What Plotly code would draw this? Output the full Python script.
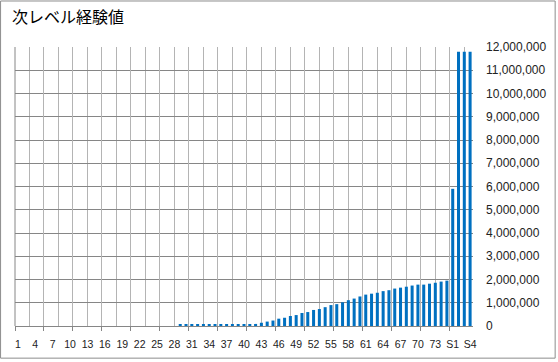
import plotly.graph_objects as go

title_text = "次レベル経験値"

levels = [str(i) for i in range(1, 76)] + ["S1", "S2", "S3", "S4"]

exp_values = (
    [0] * 28
    + [50000] * 13
    + [90000, 140000, 190000, 235000, 315000, 355000, 430000, 470000, 560000, 600000,
       690000, 730000, 810000, 900000, 940000, 1020000, 1110000, 1180000, 1270000, 1350000,
       1390000, 1430000, 1500000, 1540000, 1610000, 1650000, 1690000, 1740000, 1780000, 1780000,
       1820000, 1860000, 1910000, 1950000]
    + [5900000, 11800000, 11800000, 11800000]
)

label_ticks = levels[0:75:3] + ["S1", "S4"]

y_max = 12000000
y_step = 1000000

n = len(levels)
major_bounds = [i - 0.5 for i in range(0, n + 1, 5)]

fig = go.Figure()
fig.add_trace(go.Bar(x=levels, y=exp_values, marker=dict(color="#0070C0", line=dict(width=0)),
                     xaxis="x", yaxis="y", hoverinfo="x+y"))
# helper (draws nothing) so that the overlay axis carrying the grid and tick marks is rendered
fig.add_trace(go.Scatter(x=[-0.5, n - 0.5], y=[0, 0], mode="none", xaxis="x2", yaxis="y",
                         hoverinfo="skip", showlegend=False))

fig.update_layout(
    width=558, height=362,
    margin=dict(l=15, r=83, t=47, b=33),
    paper_bgcolor="white", plot_bgcolor="white",
    showlegend=False,
    bargap=0.48,
    title=dict(text=title_text, x=0, xref="paper", xanchor="left", y=1, yref="container",
               yanchor="top", pad=dict(t=12, l=-3),
               font=dict(family="Noto Sans CJK JP", size=16, color="#000000")),
    xaxis=dict(type="category", tickmode="array", tickvals=label_ticks, ticktext=label_ticks,
               showgrid=False, ticks="", showline=True, linecolor="#868686", linewidth=1,
               tickfont=dict(family="Liberation Sans", size=10.5, color="#222222"),
               ticklabelstandoff=8, range=[-0.5, n - 0.5], fixedrange=True, zeroline=False),
    xaxis2=dict(overlaying="x", anchor="y", side="bottom", type="linear", range=[-0.5, n - 0.5],
                tickmode="array", tickvals=major_bounds, showticklabels=False,
                ticks="outside", ticklen=4, tickcolor="#868686", tickwidth=1,
                showgrid=True, gridcolor="#b4b4b4", gridwidth=1, zeroline=False,
                minor=dict(dtick=2.5, tick0=-0.5, showgrid=True, gridcolor="#b4b4b4", ticks=""),
                showline=False),
    yaxis=dict(side="right", range=[0, y_max], dtick=y_step, tickformat=",d",
               showgrid=True, gridcolor="#868686", gridwidth=1, zeroline=False,
               ticks="", ticklabelstandoff=12,
               tickfont=dict(family="Liberation Sans", size=12, color="#222222")),
    shapes=[
        dict(type="line", xref="paper", yref="paper", x0=0, x1=0, y0=0, y1=1,
             line=dict(color="#868686", width=1), layer="above"),
        dict(type="rect", xref="paper", yref="paper",
             x0=-14.5 / 460, x1=1 + 82.5 / 460, y0=-32.5 / 282, y1=1 + 46.5 / 282,
             line=dict(color="#8c8c8c", width=1), fillcolor="rgba(0,0,0,0)", layer="above"),
    ],
)

fig.write_html("out.html", config={"displayModeBar": False},
               post_script="document.body.style.margin='0';")
